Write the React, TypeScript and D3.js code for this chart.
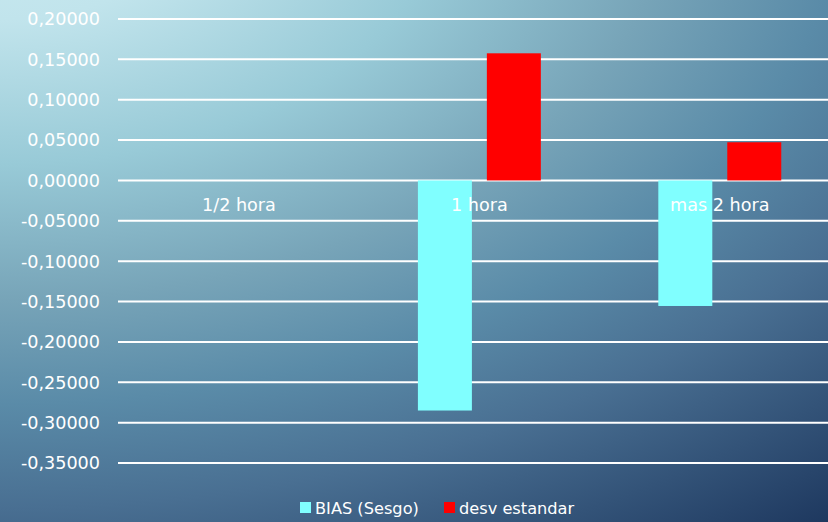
import React from "react";
import * as d3 from "d3";

// Bias and standard deviation of the estimate, by time horizon
const categories = ["1/2 hora", "1 hora", "mas 2 hora"];
const seriesNames = ["BIAS (Sesgo)", "desv estandar"];
const biasValues = [0, -0.285, -0.1555];
const stdDevValues = [0, 0.1575, 0.0473];
const yTicks = [0.2, 0.15, 0.1, 0.05, 0, -0.05, -0.1, -0.15, -0.2, -0.25, -0.3, -0.35];

const seriesColors = ["#80FFFF", "#FF0000"];
const FONT = "'DejaVu Sans', sans-serif";

const W = 828;
const H = 522;

const fmt = (v: number) => {
  const s = Math.abs(v).toFixed(5).replace(".", ",");
  return (v < -1e-9 ? "-" : "") + s;
};

export default function App() {
  const y = d3.scaleLinear().domain([-0.35, 0.2]).range([463, 19]);
  const x0 = d3.scaleBand<string>().domain(categories).range([118.75, 840]).paddingInner(0).paddingOuter(0);
  const bw = x0.bandwidth();
  const x1 = d3
    .scaleBand<string>()
    .domain(seriesNames)
    .range([bw * 0.2443, bw * 0.7557])
    .paddingInner(0.217)
    .paddingOuter(0);

  const series = [biasValues, stdDevValues];

  return (
    <svg
      width={W}
      height={H}
      style={{ position: "absolute", left: 0, top: 0, display: "block" }}
      fontFamily={FONT}
    >
      <defs>
        <radialGradient
          id="bg"
          gradientUnits="userSpaceOnUse"
          cx={0}
          cy={-100}
          r={800}
          gradientTransform="scale(1.667,1)"
        >
          <stop offset="0" stopColor="#cdecf2" />
          <stop offset="0.15" stopColor="#c1e4ec" />
          <stop offset="0.33" stopColor="#98cad7" />
          <stop offset="0.5" stopColor="#77a4b8" />
          <stop offset="0.63" stopColor="#5a8ba8" />
          <stop offset="0.76" stopColor="#496f92" />
          <stop offset="1" stopColor="#1d375e" />
        </radialGradient>
      </defs>
      <rect x={0} y={0} width={W} height={H} fill="url(#bg)" />

      {/* gridlines */}
      {yTicks.map((t) => (
        <line
          key={"g" + t}
          x1={118}
          x2={W}
          y1={y(t)}
          y2={y(t)}
          stroke="#ffffff"
          strokeWidth={2}
        />
      ))}

      {/* y tick labels */}
      {yTicks.map((t) => (
        <text
          key={"t" + t}
          x={100}
          y={y(t)}
          dy="0.36em"
          textAnchor="end"
          fill="#ffffff"
          fontSize={17.6}
        >
          {fmt(t)}
        </text>
      ))}

      {/* bars */}
      {categories.map((c, i) => (
        <g key={c} transform={`translate(${x0(c)},0)`}>
          {series.map((vals, si) => {
            const v = vals[i];
            if (v === 0) return null;
            const y0 = y(0);
            const yv = y(v);
            return (
              <rect
                key={si}
                x={x1(seriesNames[si])}
                width={x1.bandwidth()}
                y={Math.min(y0, yv)}
                height={Math.abs(yv - y0)}
                fill={seriesColors[si]}
              />
            );
          })}
        </g>
      ))}

      {/* category labels */}
      {categories.map((c) => (
        <text
          key={"c" + c}
          x={(x0(c) as number) + bw / 2}
          y={211}
          textAnchor="middle"
          fill="#ffffff"
          fontSize={17.6}
        >
          {c}
        </text>
      ))}

      {/* legend */}
      <g>
        <rect x={300} y={502} width={11} height={11} fill={seriesColors[0]} />
        <text x={315} y={514} fill="#ffffff" fontSize={16.2}>
          {seriesNames[0]}
        </text>
        <rect x={444} y={502} width={11} height={11} fill={seriesColors[1]} />
        <text x={459} y={514} fill="#ffffff" fontSize={16.2}>
          {seriesNames[1]}
        </text>
      </g>
    </svg>
  );
}
